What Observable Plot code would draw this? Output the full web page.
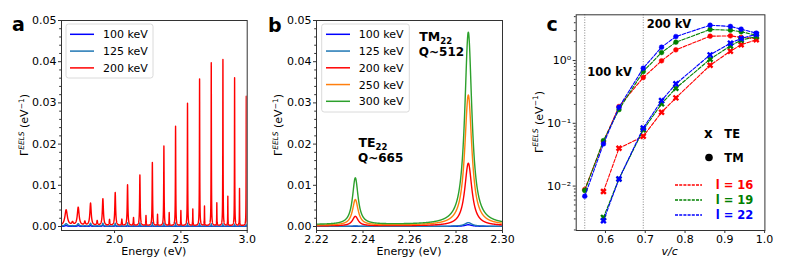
<!DOCTYPE html>
<html><head><meta charset="utf-8">
<script src="https://cdn.jsdelivr.net/npm/d3@7"></script>
<script src="https://cdn.jsdelivr.net/npm/@observablehq/plot@0.6"></script>
<style>
html,body{margin:0;padding:0;background:#fff;}
#fig{position:relative;width:789px;height:274px;overflow:hidden;font-family:"DejaVu Sans";}
#fig svg{position:absolute;top:0;}
</style></head><body><div id="fig"></div>
<script>
// ---------- Panel a data (peak centres, heights, FWHM) ----------
const aTM_E = [1.635, 1.726, 1.819, 1.912, 2.005, 2.098, 2.191, 2.285, 2.372, 2.460, 2.550, 2.641, 2.729, 2.817, 2.905, 2.993];
const aTM_W = [0.022, 0.016, 0.012, 0.0095, 0.0075, 0.006, 0.005, 0.0042, 0.0036, 0.0032, 0.003, 0.0028, 0.0026, 0.0025, 0.0024, 0.0023];
const aTE_E = [1.683, 1.776, 1.869, 1.962, 2.055, 2.143, 2.237, 2.324, 2.412, 2.500, 2.590, 2.678, 2.771, 2.854, 2.942];
const aTE_W = [0.012, 0.009, 0.007, 0.0055, 0.0045, 0.004, 0.0034, 0.003, 0.0027, 0.0025, 0.0023, 0.0022, 0.0021, 0.002, 0.002];
const a200_TM = [0.0038, 0.0044, 0.0054, 0.0065, 0.0080, 0.0099, 0.0123, 0.0153, 0.0193, 0.0241, 0.0297, 0.0356, 0.0395, 0.0403, 0.0359, 0.0314];
const a200_TE = [0.0007, 0.0009, 0.0011, 0.0014, 0.0015, 0.0019, 0.0024, 0.0027, 0.0031, 0.0036, 0.0040, 0.0047, 0.0055, 0.0071, 0.0090];
const a125_TM = [0.0006, 0.0006, 0.0007, 0.0007, 0.0007, 0.0008, 0.0008, 0.0009, 0.0008, 0.0008, 0.0007, 0.0007, 0.0006, 0.0006, 0.0005, 0.0005];
const a100_TM = [0.0002, 0.0002, 0.0002, 0.0003, 0.0003, 0.0003, 0.0003, 0.0004, 0.0003, 0.0003, 0.0003, 0.0003, 0.0002, 0.0002, 0.0002, 0.0002];
const a125_TE = [0.0001, 0.0001, 0.0001, 0.0001, 0.0001, 0.0002, 0.0002, 0.0002, 0.0002, 0.0002, 0.0002, 0.0001, 0.0001, 0.0001, 0.0001];
const a100_TE = [0.00005, 0.00005, 0.00005, 0.00005, 0.00005, 0.00005, 0.00005, 0.00005, 0.00005, 0.00005, 0.00005, 0.00005, 0.00005, 0.00005, 0.00005];
const aSeries = ["100 keV", "125 keV", "200 keV"];
const aColors = ["#0000ff", "#1f77b4", "#ff0000"];
const aBase = [0.00002, 0.00008, 0.0002];
const aTicksX = [2.0, 2.5, 3.0];
const aTicksY = [0, 0.01, 0.02, 0.03, 0.04, 0.05];

// ---------- Panel b data ----------
const bSeries = ["100 keV", "125 keV", "200 keV", "250 keV", "300 keV"];
const bColors = ["#0000ff", "#1f77b4", "#ff0000", "#ff7f0e", "#2ca02c"];
const bTE_E = 2.2367, bTM_E = 2.2853;
const bTE_W = 0.0029, bTM_W = 0.0037;
const bTE_H = [0.00003, 0.0001, 0.0023, 0.0062, 0.0113];
const bTM_H = [0.0004, 0.0009, 0.0152, 0.0316, 0.0467];
const bBase = [0.00002, 0.00004, 0.00015, 0.0003, 0.00045];
const bTicksX = [2.22, 2.24, 2.26, 2.28, 2.30];
const bTicksY = [0, 0.01, 0.02, 0.03, 0.04, 0.05];

// ---------- Panel c data ----------
const cVc = [0.548, 0.595, 0.634, 0.695, 0.741, 0.777, 0.863, 0.914, 0.941, 0.979];
const cL = ["l = 16", "l = 19", "l = 22"];
const cColors = ["#ff0000", "#008000", "#0000ff"];
const cTM16 = [0.0088, 0.051, 0.185, 0.536, 0.99, 1.48, 2.44, 2.47, 2.33, 2.25];
const cTM19 = [0.0085, 0.053, 0.165, 0.668, 1.34, 1.96, 3.12, 3.04, 2.87, 2.53];
const cTM22 = [0.0069, 0.047, 0.180, 0.755, 1.63, 2.41, 3.65, 3.49, 3.16, 2.73];
const cTE16 = [null, 0.0082, 0.040, 0.062, 0.150, 0.254, 0.84, 1.41, 1.78, 2.15];
const cTE19 = [null, 0.00317, 0.013, 0.079, 0.204, 0.362, 1.05, 1.71, 2.11, 2.41];
const cTE22 = [null, 0.0028, 0.013, 0.084, 0.230, 0.425, 1.23, 1.89, 2.24, 2.62];
const cKv = [0.548, 0.695];
const cKvLabels = ["100 kV", "200 kV"];
const cTicksX = [0.6, 0.7, 0.8, 0.9, 1.0];
const cTicksY = [0.01, 0.1, 1];
const cTickLabels = ["10⁻²", "10⁻¹", "10⁰"];

// ---------- helpers ----------
function lorentz(x, centres, heights, widths, base) {
  let s = base;
  for (let i = 0; i < centres.length; i++) {
    const g = widths[i] / 2, d = x - centres[i];
    s += heights[i] * g * g / (d * d + g * g);
  }
  return s;
}
function gridWith(lo, hi, step, extra) {
  const g = d3.range(lo, hi + step / 2, step).concat(extra.filter(v => v >= lo && v <= hi));
  return g.sort((p, q) => p - q);
}
const FONT = "DejaVu Sans";
const fig = document.getElementById("fig");
function place(svg, left) { svg.style.left = left + "px"; fig.appendChild(svg); return d3.select(svg); }
function txt(s, x, y, str, o = {}) {
  return s.append("text").attr("x", x).attr("y", y).attr("font-family", FONT)
    .attr("font-size", o.size || 11).attr("font-weight", o.weight || "normal")
    .attr("font-style", o.style || "normal").attr("fill", o.fill || "#000")
    .attr("text-anchor", o.anchor || "start").text(str);
}
function yLabel(s, x, y) {
  const t = s.append("text").attr("transform", `translate(${x},${y}) rotate(-90)`)
    .attr("text-anchor", "middle").attr("font-size", 11).attr("font-family", FONT).attr("fill", "#000");
  t.append("tspan").text("Γ");
  t.append("tspan").attr("font-size", 7.5).attr("font-style", "italic").attr("dy", -4.5).text("EELS");
  t.append("tspan").attr("dy", 4.5).text(" (eV");
  t.append("tspan").attr("font-size", 7.5).attr("dy", -4.5).text("−1");
  t.append("tspan").attr("dy", 4.5).text(")");
}
const styleObj = {fontFamily: FONT, fontSize: "11px", color: "#000", background: "transparent", overflow: "visible"};
function minorLinear(lo, hi, step, majors) {
  return d3.range(lo, hi + step / 2, step).map(v => +v.toFixed(6)).filter(v => !majors.some(m => Math.abs(m - v) < 1e-9));
}

// ---------- Panel a ----------
const aExtra = aTM_E.concat(aTE_E);
const aGrid = gridWith(1.6, 3.0, 0.0004, aExtra);
const aTMH = [a100_TM, a125_TM, a200_TM];
const aTEH = [a100_TE, a125_TE, a200_TE];
const plotA = Plot.plot({
  width: 260, height: 274, marginLeft: 61, marginRight: 13.3, marginTop: 20, marginBottom: 44,
  style: styleObj,
  x: {domain: [1.6, 3.0]},
  y: {domain: [-0.00097, 0.05]},
  marks: [
    ...aSeries.map((s, k) => Plot.line(aGrid.map(x => ({x, y: lorentz(x, aTM_E, aTMH[k], aTM_W, aBase[k]) + lorentz(x, aTE_E, aTEH[k], aTE_W, 0)})),
      {x: "x", y: "y", stroke: aColors[k], strokeWidth: 1.4, clip: true})),
    Plot.frame({stroke: "#333", strokeWidth: 1}),
    Plot.axisX({ticks: aTicksX, tickFormat: d3.format(".1f"), tickSize: 3, tickPadding: 2, label: null, stroke: "#333"}),
    Plot.axisY({ticks: aTicksY, tickFormat: d3.format(".2f"), tickSize: 3, tickPadding: 2, label: null, stroke: "#333"}),
    Plot.axisY(minorLinear(0, 0.05, 0.002, aTicksY), {tickSize: 1.8, tickFormat: () => "", label: null, stroke: "#333"})
  ]
});
const sa = place(plotA, 0);
txt(sa, 153.8, 255, "Energy (eV)", {anchor: "middle"});
yLabel(sa, 28, 125);
txt(sa, 12, 31, "a", {size: 19, weight: "bold"});
// legend a
sa.append("rect").attr("x", 66).attr("y", 24).attr("width", 87).attr("height", 54).attr("rx", 2.5)
  .attr("fill", "#fff").attr("fill-opacity", 0.8).attr("stroke", "#d0d0d0").attr("stroke-width", 0.8);
aSeries.forEach((s, k) => {
  const cy = 34.3 + k * 16.8;
  sa.append("line").attr("x1", 70).attr("x2", 94).attr("y1", cy).attr("y2", cy).attr("stroke", aColors[k]).attr("stroke-width", 1.5);
  txt(sa, 103, cy + 4, s);
});

// ---------- Panel b ----------
const bGrid = gridWith(2.22, 2.30, 0.00005, [bTE_E, bTM_E]);
const plotB = Plot.plot({
  width: 255, height: 274, marginLeft: 56, marginRight: 13, marginTop: 20, marginBottom: 44,
  style: styleObj,
  x: {domain: [2.22, 2.30]},
  y: {domain: [-0.00097, 0.05]},
  marks: [
    ...bSeries.map((s, k) => Plot.line(bGrid.map(x => ({x, y: lorentz(x, [bTE_E, bTM_E], [bTE_H[k], bTM_H[k]], [bTE_W, bTM_W], bBase[k])})),
      {x: "x", y: "y", stroke: bColors[k], strokeWidth: 1.4, clip: true})),
    Plot.frame({stroke: "#333", strokeWidth: 1}),
    Plot.axisX({ticks: bTicksX, tickFormat: d3.format(".2f"), tickSize: 3, tickPadding: 2, label: null, stroke: "#333"}),
    Plot.axisY({ticks: bTicksY, tickFormat: d3.format(".2f"), tickSize: 3, tickPadding: 2, label: null, stroke: "#333"}),
    Plot.axisY(minorLinear(0, 0.05, 0.002, bTicksY), {tickSize: 1.8, tickFormat: () => "", label: null, stroke: "#333"})
  ]
});
const sb = place(plotB, 260);
txt(sb, 149, 255, "Energy (eV)", {anchor: "middle"});
yLabel(sb, 22, 125);
txt(sb, 8, 32, "b", {size: 19, weight: "bold"});
sb.append("rect").attr("x", 61.7).attr("y", 24).attr("width", 87.6).attr("height", 88).attr("rx", 2.5)
  .attr("fill", "#fff").attr("fill-opacity", 0.8).attr("stroke", "#d0d0d0").attr("stroke-width", 0.8);
bSeries.forEach((s, k) => {
  const cy = 34.3 + k * 16.75;
  sb.append("line").attr("x1", 66).attr("x2", 90).attr("y1", cy).attr("y2", cy).attr("stroke", bColors[k]).attr("stroke-width", 1.5);
  txt(sb, 98.7, cy + 4, s);
});
function modeLabel(s, x, y, main, sub, q) {
  const t = s.append("text").attr("x", x).attr("y", y).attr("font-family", FONT).attr("font-size", 12.5)
    .attr("font-weight", "bold").attr("text-anchor", "start").attr("fill", "#000");
  t.append("tspan").text(main);
  t.append("tspan").attr("font-size", 8.5).attr("dy", 3).text(sub);
  txt(s, x - 0.5, y + 15.5, q, {size: 12, weight: "bold"});
}
modeLabel(sb, 159.3, 40.5, "TM", "22", "Q~512");
modeLabel(sb, 98.5, 146.5, "TE", "22", "Q~665");

// ---------- Panel c ----------
const cTM = [cTM16, cTM19, cTM22], cTE = [cTE16, cTE19, cTE22];
const cMarks = [];
cL.forEach((l, k) => {
  const te = cVc.map((x, i) => ({x, y: cTE[k][i]})).filter(d => d.y != null);
  const tm = cVc.map((x, i) => ({x, y: cTM[k][i]}));
  cMarks.push(Plot.line(te, {x: "x", y: "y", stroke: cColors[k], strokeWidth: 1.1, strokeDasharray: "3.5,1.6"}));
  cMarks.push(Plot.dot(te, {x: "x", y: "y", symbol: "times", r: 2.3, stroke: cColors[k], strokeWidth: 2.4}));
  cMarks.push(Plot.line(tm, {x: "x", y: "y", stroke: cColors[k], strokeWidth: 1.1, strokeDasharray: "3.5,1.6"}));
  cMarks.push(Plot.dot(tm, {x: "x", y: "y", r: 2.4, fill: cColors[k], stroke: cColors[k], strokeWidth: 0.5}));
});
const cMinorY = [];
[0.001, 0.01, 0.1, 1].forEach(dec => { for (let m = 2; m <= 9; m++) { const v = m * dec; if (v >= 0.00196 && v <= 5.35) cMinorY.push(v); } });
const plotC = Plot.plot({
  width: 274, height: 274, marginLeft: 60.7, marginRight: 24.6, marginTop: 14.3, marginBottom: 44,
  style: styleObj,
  x: {domain: [0.5265, 1.0007]},
  y: {type: "log", domain: [0.00196, 5.35]},
  marks: [
    Plot.ruleX(cKv, {stroke: "#666", strokeWidth: 0.8, strokeDasharray: "1,1.6"}),
    ...cMarks,
    Plot.frame({stroke: "#333", strokeWidth: 1}),
    Plot.axisX({ticks: cTicksX, tickFormat: d3.format(".1f"), tickSize: 3, tickPadding: 2, label: null, stroke: "#333"}),
    Plot.axisY({ticks: cTicksY, tickFormat: d => cTickLabels[cTicksY.indexOf(d)], tickSize: 3, tickPadding: 2, label: null, stroke: "#333"}),
    Plot.axisY(cMinorY, {tickSize: 1.8, tickFormat: () => "", label: null, stroke: "#333"})
  ]
});
const sc = place(plotC, 515);
txt(sc, 154.6, 255, "v/c", {anchor: "middle", style: "italic"});
yLabel(sc, 27.5, 122);
txt(sc, 31.5, 30.5, "c", {size: 19, weight: "bold"});
txt(sc, 72.3, 76, cKvLabels[0], {size: 11.5, weight: "bold"});
txt(sc, 131.7, 28.3, cKvLabels[1], {size: 11.5, weight: "bold"});
txt(sc, 189, 138.3, "x", {size: 13.5, weight: "bold"});
txt(sc, 209.3, 138.3, "TE", {size: 11.5, weight: "bold"});
sc.append("circle").attr("cx", 194).attr("cy", 157.5).attr("r", 3.8).attr("fill", "#000");
txt(sc, 209.3, 161.7, "TM", {size: 11.5, weight: "bold"});
cL.forEach((l, k) => {
  const cy = 185 + k * 15;
  sc.append("line").attr("x1", 160).attr("x2", 187).attr("y1", cy).attr("y2", cy).attr("stroke", cColors[k]).attr("stroke-width", 1.5).attr("stroke-dasharray", "3,1.2");
  txt(sc, 200.7, cy + 4.3, l, {size: 11.5, weight: "bold", fill: cColors[k]});
});
</script>
</body></html>
